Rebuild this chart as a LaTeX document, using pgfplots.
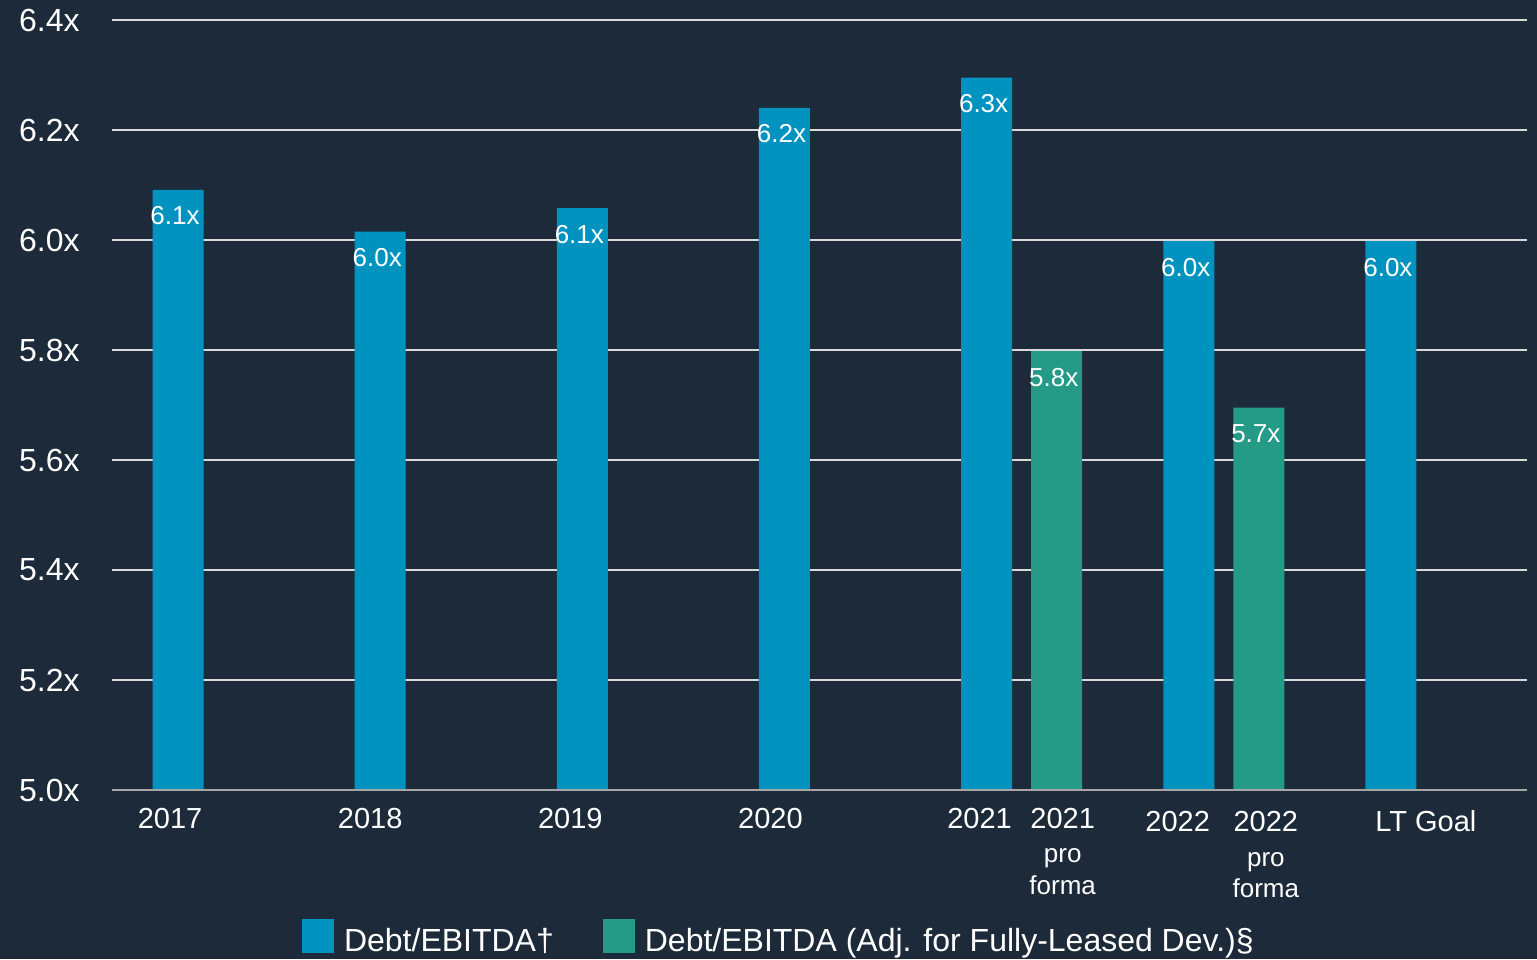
\documentclass[border=0pt]{standalone}
\usepackage{fontspec}
\setmainfont{Liberation Sans}
\usepackage{pgfplots}
\pgfplotsset{compat=1.18}

\definecolor{bg}{HTML}{1C2A3A}
\definecolor{cblue}{HTML}{0093BF}
\definecolor{cgreen}{HTML}{249A87}
\definecolor{gridc}{HTML}{D9D9D9}
\definecolor{axisc}{HTML}{A6A6A6}

\newcommand{\yrfont}{\fontsize{14.5}{15.5}\selectfont}
\newcommand{\pffont}{\fontsize{13}{15.5}\selectfont}
\newcommand{\pflabel}[2]{\pffont\begin{tabular}[t]{@{}c@{}}\yrfont #1\\[#2]pro\\forma\end{tabular}}

\pgfplotsset{
  sq legend/.style={legend image code/.code={
    \fill[##1] (0pt,-6pt) rectangle (16pt,11pt);
    \path (19pt,0pt);}},
}

\begin{document}
\begin{tikzpicture}
\path[use as bounding box, fill=bg] (0,0) rectangle (768.5pt,479.5pt);
\begin{axis}[
  at={(56pt,84.5pt)}, anchor=south west,
  scale only axis,
  width=707.5pt, height=385pt,
  xmin=-0.5, xmax=6.5,
  ymin=5.0, ymax=6.4,
  ytick={5.0,5.2,5.4,5.6,5.8,6.0,6.2,6.4},
  ymajorgrids,
  major grid style={color=gridc, line width=1.1pt},
  axis line style={draw=none},
  tick style={draw=none},
  /pgf/number format/assume math mode=true,
  yticklabel={\pgfmathprintnumber[fixed,fixed zerofill,precision=1]{\tick}x},
  yticklabel style={font=\fontsize{16}{19}\selectfont, text=white, anchor=east, inner sep=0pt, xshift=-16pt},
  xtick={-0.213,0.777,1.767,2.757,3.792,4.203,4.772,5.208,6.0},
  xticklabels={2017,2018,2019,2020,2021,
    {\pflabel{2021}{1.5pt}},
    {\raisebox{-1.5pt}{2022}},
    {\raisebox{-1.5pt}{\pflabel{2022}{2pt}}},
    {\raisebox{-1.5pt}{LT Goal}}},
  xticklabel style={font=\yrfont, text=white, anchor=base, inner sep=0pt, yshift=-19.5pt},
  legend columns=2,
  legend style={draw=none, fill=none, text=white, font=\fontsize{16}{19}\selectfont,
    at={(0.1343,-0.1929)}, anchor=west, inner sep=0pt, outer sep=0pt,
    /tikz/every even column/.append style={column sep=22.5pt}},
  nodes near coords={\pgfmathprintnumber[fixed,fixed zerofill,precision=1]{\pgfplotspointmeta}x},
  nodes near coords style={font=\fontsize{13}{15}\selectfont, text=white, anchor=base, inner sep=0pt, yshift=-17.5pt, xshift=-1.5pt},
]
\addplot[ybar, bar width=25.5pt, bar shift=0pt, fill=cblue, draw=none, sq legend] coordinates {
  (-0.1733,6.091) (0.8267,6.015) (1.8267,6.058) (2.8267,6.240)
  (3.8267,6.295) (4.8267,5.998) (5.8267,5.998)
};
\addlegendentry{Debt/EBITDA†}
\addplot[ybar, bar width=25.5pt, bar shift=0pt, fill=cgreen, draw=none, sq legend] coordinates {
  (4.1733,5.798) (5.1733,5.695)
};
\addlegendentry{Debt/EBITDA (Adj. for Fully-Leased Dev.)§}
\draw[axisc, line width=1.5pt] (rel axis cs:0,0) -- (rel axis cs:1,0);
\end{axis}
\end{tikzpicture}
\end{document}
